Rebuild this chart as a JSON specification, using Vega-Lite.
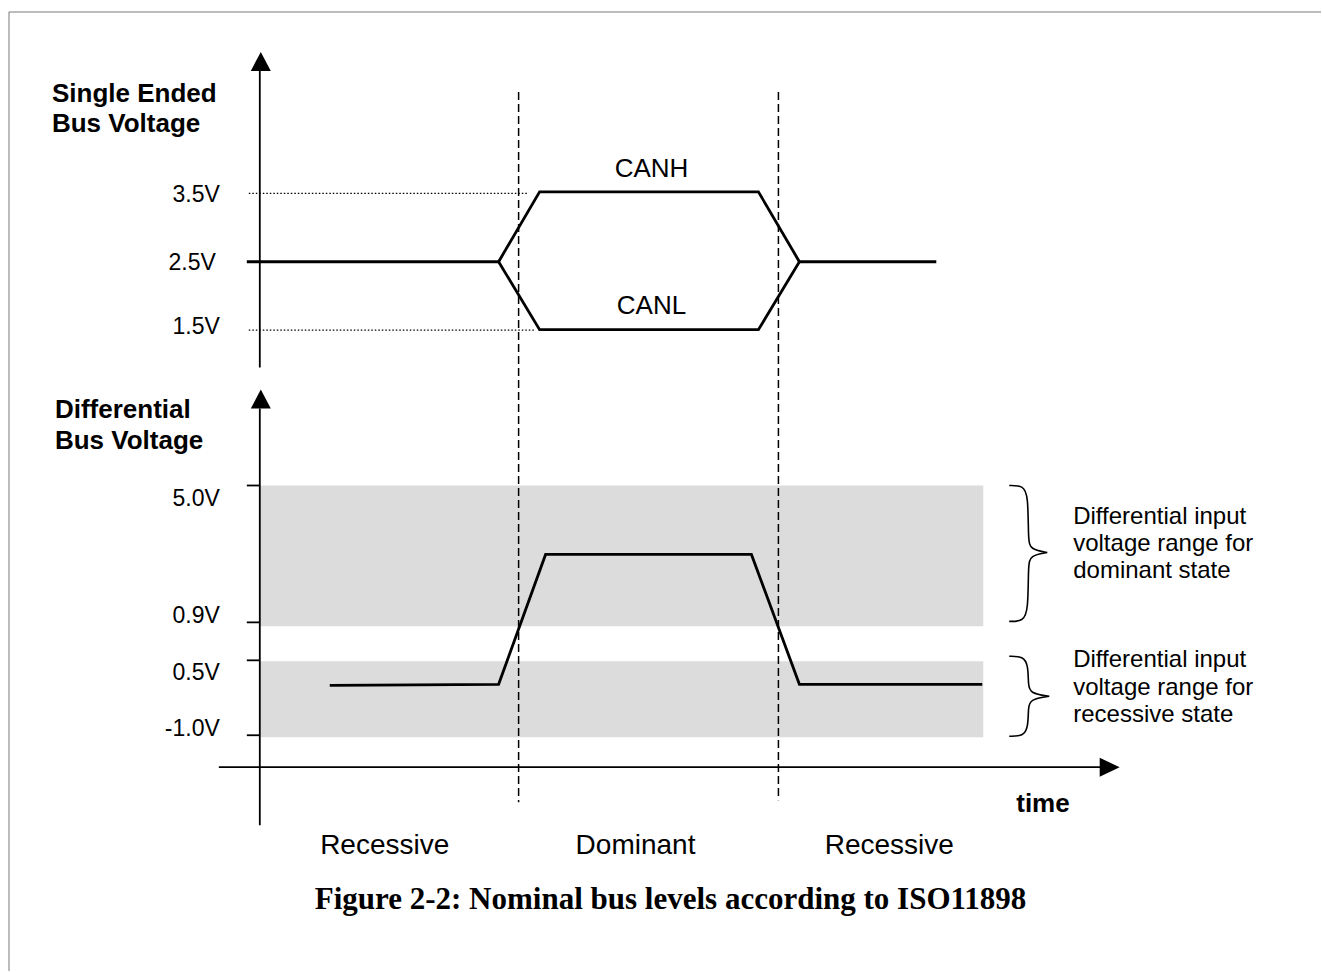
{
  "$schema": "https://vega.github.io/schema/vega-lite/v6.json",
  "width": 1322,
  "height": 972,
  "autosize": {"type": "fit", "contains": "padding"},
  "padding": 0,
  "background": "white",
  "config": {"view": {"stroke": null}},
  "datasets": {
    "frame": [
      {"x": 9, "y": 12, "x2": 1322, "y2": 12},
      {"x": 9, "y": 12, "x2": 9, "y2": 972}
    ],
    "bands": [
      {"x": 260, "x2": 984, "y": 486, "y2": 627},
      {"x": 260, "x2": 984, "y": 662, "y2": 738}
    ],
    "axes": [
      {"x": 260, "y": 70, "x2": 260, "y2": 368},
      {"x": 260, "y": 409, "x2": 260, "y2": 826},
      {"x": 219, "y": 768, "x2": 1101, "y2": 768},
      {"x": 247, "y": 486, "x2": 260, "y2": 486},
      {"x": 247, "y": 623, "x2": 260, "y2": 623},
      {"x": 247, "y": 661, "x2": 260, "y2": 661},
      {"x": 247, "y": 736, "x2": 260, "y2": 736}
    ],
    "dotted": [
      {"x": 249, "y": 193.5, "x2": 528, "y2": 193.5},
      {"x": 249, "y": 330.5, "x2": 535, "y2": 330.5}
    ],
    "dashed": [
      {"x": 519, "y": 92, "x2": 519, "y2": 803},
      {"x": 779, "y": 92, "x2": 779, "y2": 801}
    ],
    "signals": [
      {"s": "CANH", "o": 1, "x": 247, "y": 262},
      {"s": "CANH", "o": 2, "x": 499, "y": 262},
      {"s": "CANH", "o": 3, "x": 540, "y": 192},
      {"s": "CANH", "o": 4, "x": 759, "y": 192},
      {"s": "CANH", "o": 5, "x": 800, "y": 262},
      {"s": "CANH", "o": 6, "x": 937, "y": 262},
      {"s": "CANL", "o": 1, "x": 499, "y": 262},
      {"s": "CANL", "o": 2, "x": 540, "y": 330},
      {"s": "CANL", "o": 3, "x": 759, "y": 330},
      {"s": "CANL", "o": 4, "x": 800, "y": 262},
      {"s": "Diff", "o": 1, "x": 330, "y": 686},
      {"s": "Diff", "o": 2, "x": 499, "y": 685},
      {"s": "Diff", "o": 3, "x": 546, "y": 555},
      {"s": "Diff", "o": 4, "x": 752, "y": 555},
      {"s": "Diff", "o": 5, "x": 800, "y": 685},
      {"s": "Diff", "o": 6, "x": 983, "y": 685}
    ],
    "braces": [
      {"s": "dom", "o": 1, "x": 1010, "y": 486},
      {"s": "dom", "o": 2, "x": 1024, "y": 486},
      {"s": "dom", "o": 3, "x": 1029, "y": 496},
      {"s": "dom", "o": 4, "x": 1029, "y": 540},
      {"s": "dom", "o": 5, "x": 1031, "y": 550},
      {"s": "dom", "o": 6, "x": 1048, "y": 553},
      {"s": "dom", "o": 7, "x": 1048, "y": 553},
      {"s": "dom", "o": 8, "x": 1048, "y": 553},
      {"s": "dom", "o": 9, "x": 1031, "y": 556},
      {"s": "dom", "o": 10, "x": 1029, "y": 566},
      {"s": "dom", "o": 11, "x": 1029, "y": 611},
      {"s": "dom", "o": 12, "x": 1024, "y": 622},
      {"s": "dom", "o": 13, "x": 1010, "y": 622},
      {"s": "rec", "o": 1, "x": 1010, "y": 657},
      {"s": "rec", "o": 2, "x": 1024, "y": 657},
      {"s": "rec", "o": 3, "x": 1029, "y": 666},
      {"s": "rec", "o": 4, "x": 1029, "y": 686},
      {"s": "rec", "o": 5, "x": 1031, "y": 694},
      {"s": "rec", "o": 6, "x": 1050, "y": 697},
      {"s": "rec", "o": 7, "x": 1050, "y": 697},
      {"s": "rec", "o": 8, "x": 1050, "y": 697},
      {"s": "rec", "o": 9, "x": 1031, "y": 700},
      {"s": "rec", "o": 10, "x": 1029, "y": 708},
      {"s": "rec", "o": 11, "x": 1029, "y": 728},
      {"s": "rec", "o": 12, "x": 1024, "y": 737},
      {"s": "rec", "o": 13, "x": 1010, "y": 737}
    ],
    "arrows": [
      {"x": 261, "y": 61.5, "dir": "up"},
      {"x": 261, "y": 399.5, "dir": "up"},
      {"x": 1110.5, "y": 768, "dir": "right"}
    ],
    "ticklabels": [
      {"x": 220, "y": 202, "t": "3.5V"},
      {"x": 216, "y": 270, "t": "2.5V"},
      {"x": 220, "y": 334, "t": "1.5V"},
      {"x": 220, "y": 507, "t": "5.0V"},
      {"x": 220, "y": 624, "t": "0.9V"},
      {"x": 220, "y": 681, "t": "0.5V"},
      {"x": 220, "y": 737, "t": "-1.0V"}
    ],
    "headers": [
      {"x": 52, "y": 102, "t": "Single Ended"},
      {"x": 52, "y": 132, "t": "Bus Voltage"},
      {"x": 55, "y": 418, "t": "Differential"},
      {"x": 55, "y": 449, "t": "Bus Voltage"}
    ],
    "canlabels": [
      {"x": 652, "y": 177, "t": "CANH"},
      {"x": 652, "y": 314, "t": "CANL"}
    ],
    "bracetext": [
      {"x": 1074, "y": 525, "t": "Differential input"},
      {"x": 1074, "y": 552, "t": "voltage range for"},
      {"x": 1074, "y": 579, "t": "dominant state"},
      {"x": 1074, "y": 668, "t": "Differential input"},
      {"x": 1074, "y": 696, "t": "voltage range for"},
      {"x": 1074, "y": 723, "t": "recessive state"}
    ],
    "states": [
      {"x": 385, "y": 855, "t": "Recessive"},
      {"x": 636, "y": 855, "t": "Dominant"},
      {"x": 890, "y": 855, "t": "Recessive"}
    ],
    "timelabel": [
      {"x": 1017, "y": 813, "t": "time"}
    ],
    "caption": [
      {"x": 671, "y": 910, "t": "Figure 2-2: Nominal bus levels according to ISO11898"}
    ]
  },
  "encoding": {
    "x": {"field": "x", "type": "quantitative", "scale": {"domain": [0, 1322], "nice": false, "zero": false}, "axis": null},
    "y": {"field": "y", "type": "quantitative", "scale": {"domain": [0, 972], "nice": false, "zero": false, "reverse": true}, "axis": null}
  },
  "layer": [
    {
      "data": {"name": "frame"},
      "mark": {"type": "rule", "color": "#7a7a7a", "strokeWidth": 1},
      "encoding": {"x2": {"field": "x2"}, "y2": {"field": "y2"}}
    },
    {
      "data": {"name": "bands"},
      "mark": {"type": "rect", "color": "#dcdcdc"},
      "encoding": {"x2": {"field": "x2"}, "y2": {"field": "y2"}}
    },
    {
      "data": {"name": "dotted"},
      "mark": {"type": "rule", "color": "#000000", "strokeWidth": 1.2, "strokeDash": [1.5, 2]},
      "encoding": {"x2": {"field": "x2"}, "y2": {"field": "y2"}}
    },
    {
      "data": {"name": "axes"},
      "mark": {"type": "rule", "color": "#000000", "strokeWidth": 1.8},
      "encoding": {"x2": {"field": "x2"}, "y2": {"field": "y2"}}
    },
    {
      "data": {"name": "dashed"},
      "mark": {"type": "rule", "color": "#000000", "strokeWidth": 1.5, "strokeDash": [8, 4]},
      "encoding": {"x2": {"field": "x2"}, "y2": {"field": "y2"}}
    },
    {
      "data": {"name": "signals"},
      "mark": {"type": "line", "color": "#000000", "strokeWidth": 2.8},
      "encoding": {"detail": {"field": "s"}, "order": {"field": "o", "type": "quantitative"}}
    },
    {
      "data": {"name": "braces"},
      "mark": {"type": "line", "color": "#000000", "strokeWidth": 1.6, "interpolate": "basis"},
      "encoding": {"detail": {"field": "s"}, "order": {"field": "o", "type": "quantitative"}}
    },
    {
      "data": {"name": "arrows"},
      "mark": {"type": "point", "filled": true, "color": "#000000", "opacity": 1, "size": 400},
      "encoding": {
        "shape": {"field": "dir", "type": "nominal", "scale": {"domain": ["up", "right"], "range": ["M0,-0.95L1,0.95L-1,0.95Z", "M1,0L-1,-0.95L-1,0.95Z"]}, "legend": null}
      }
    },
    {
      "data": {"name": "ticklabels"},
      "mark": {"type": "text", "align": "right", "baseline": "alphabetic", "font": "Liberation Sans", "fontSize": 23, "color": "#000000"},
      "encoding": {"text": {"field": "t"}}
    },
    {
      "data": {"name": "headers"},
      "mark": {"type": "text", "align": "left", "baseline": "alphabetic", "font": "Liberation Sans", "fontWeight": "bold", "fontSize": 26, "color": "#000000"},
      "encoding": {"text": {"field": "t"}}
    },
    {
      "data": {"name": "canlabels"},
      "mark": {"type": "text", "align": "center", "baseline": "alphabetic", "font": "Liberation Sans", "fontSize": 26, "color": "#000000"},
      "encoding": {"text": {"field": "t"}}
    },
    {
      "data": {"name": "bracetext"},
      "mark": {"type": "text", "align": "left", "baseline": "alphabetic", "font": "Liberation Sans", "fontSize": 24, "color": "#000000"},
      "encoding": {"text": {"field": "t"}}
    },
    {
      "data": {"name": "states"},
      "mark": {"type": "text", "align": "center", "baseline": "alphabetic", "font": "Liberation Sans", "fontSize": 28, "color": "#000000"},
      "encoding": {"text": {"field": "t"}}
    },
    {
      "data": {"name": "timelabel"},
      "mark": {"type": "text", "align": "left", "baseline": "alphabetic", "font": "Liberation Sans", "fontWeight": "bold", "fontSize": 26, "color": "#000000"},
      "encoding": {"text": {"field": "t"}}
    },
    {
      "data": {"name": "caption"},
      "mark": {"type": "text", "align": "center", "baseline": "alphabetic", "font": "Liberation Serif", "fontWeight": "bold", "fontSize": 31, "color": "#000000"},
      "encoding": {"text": {"field": "t"}}
    }
  ]
}
